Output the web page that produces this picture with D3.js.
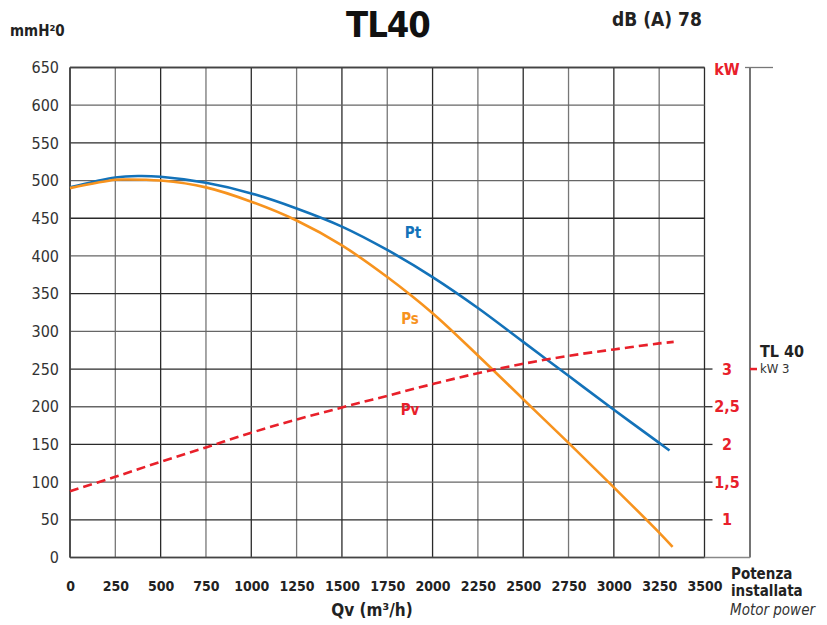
<!DOCTYPE html>
<html><head><meta charset="utf-8">
<script src="https://cdn.jsdelivr.net/npm/d3@7"></script>
<style>
body{margin:0;background:#fff;}
svg{display:block;}
text{font-family:"DejaVu Sans Condensed","Liberation Sans Narrow",sans-serif;}
</style></head>
<body><svg id="c" width="827" height="625"></svg>
<script>
// ---- data ----
const xTicks = [0,250,500,750,1000,1250,1500,1750,2000,2250,2500,2750,3000,3250,3500];
const yTicks = [0,50,100,150,200,250,300,350,400,450,500,550,600,650];
const kwTicks = [1,1.5,2,2.5,3];
const kwLabels = ["1","1,5","2","2,5","3"];
// Pt total pressure (mmH2O)
const ptQ = [0,250,375,500,750,1000,1250,1500,1750,2000,2250,2500,2750,3000,3250,3307];
const ptV = [491,504,506,505,497,483,463,439,408,372,331,286,241,196,152,142];
// Ps static pressure (mmH2O)
const psQ = [0,250,300,500,750,1000,1250,1500,1750,2000,2250,2500,2750,3000,3250,3324];
const psV = [490,501,501.5,500,491,472,447,414,372,324,268,210,152,93,33,14];
// Pv absorbed power (kW)
const pvQ = [0,250,500,750,1000,1250,1500,1750,2000,2250,2500,2750,3000,3250,3330];
const pvV = [1.38,1.57,1.77,1.96,2.155,2.33,2.49,2.645,2.8,2.945,3.07,3.175,3.26,3.34,3.36];
const installedKW = 3;

const svg = d3.select("#c");
const x = d3.scaleLinear().domain([0,3500]).range([70,704.5]);
const y = d3.scaleLinear().domain([0,650]).range([557.5,67.5]);
const yk = d3.scaleLinear().domain([0.5,7]).range([557.5,67.5]);
const gridCol = "#2a2a2a";

// gridlines
const g = svg.append("g");
g.selectAll(".vg").data(xTicks).join("line")
  .attr("x1",d=>x(d)).attr("x2",d=>x(d)).attr("y1",y(650)).attr("y2",y(0))
  .attr("stroke",(d,i)=>i%2?"#777":gridCol).attr("stroke-width",1.3);
g.selectAll(".hg").data(yTicks).join("line")
  .attr("x1",x(0)).attr("x2",x(3500)).attr("y1",d=>y(d)).attr("y2",d=>y(d))
  .attr("stroke",(d,i)=>i%2?gridCol:"#666").attr("stroke-width",1.3);
// kW tick extensions
g.selectAll(".kt").data(kwTicks).join("line")
  .attr("x1",x(3500)).attr("x2",x(3500)+8).attr("y1",d=>yk(d)).attr("y2",d=>yk(d))
  .attr("stroke",gridCol).attr("stroke-width",1.3);
// motor power axis
g.append("line").attr("x1",750).attr("x2",750).attr("y1",y(650)).attr("y2",y(0))
  .attr("stroke",gridCol).attr("stroke-width",1.3);
g.append("line").attr("x1",x(3500)).attr("x2",750).attr("y1",y(0)).attr("y2",y(0))
  .attr("stroke","#888").attr("stroke-width",1.3);
g.append("line").attr("x1",745).attr("x2",773).attr("y1",y(650)).attr("y2",y(650))
  .attr("stroke","#777").attr("stroke-width",1.3);
g.append("line").attr("x1",x(0)).attr("x2",x(3500)).attr("y1",y(650)).attr("y2",y(650))
  .attr("stroke","#444").attr("stroke-width",1.6);
g.append("line").attr("x1",x(0)).attr("x2",x(3500)).attr("y1",y(0)).attr("y2",y(0))
  .attr("stroke","#444").attr("stroke-width",1.6);
g.append("line").attr("x1",x(0)).attr("x2",x(0)).attr("y1",y(650)).attr("y2",y(0))
  .attr("stroke","#444").attr("stroke-width",1.6);

// axes labels via d3 axes
const ya = svg.append("g").attr("transform","translate(59,0)")
  .call(d3.axisLeft(y).tickValues(yTicks).tickSize(0).tickPadding(0));
ya.select(".domain").remove();
ya.selectAll("text").attr("font-size",16).attr("fill","#333")
  .style("font-family",'"DejaVu Sans Condensed","Liberation Sans Narrow",sans-serif');

const xa = svg.append("g").attr("transform","translate(0,581)")
  .call(d3.axisBottom(x).tickValues(xTicks).tickFormat(d3.format("d")).tickSize(0).tickPadding(0));
xa.select(".domain").remove();
xa.selectAll("text").attr("font-size",14).attr("font-weight","bold").attr("fill","#222")
  .style("font-family",'"DejaVu Sans Condensed","Liberation Sans Narrow",sans-serif');

const ka = svg.append("g").attr("transform","translate(727,0)")
  .call(d3.axisRight(yk).tickValues(kwTicks).tickFormat((d,i)=>kwLabels[i]).tickSize(0).tickPadding(0));
ka.select(".domain").remove();
ka.selectAll("text").attr("font-size",16).attr("font-weight","bold").attr("fill","#e8202a")
  .attr("text-anchor","middle")
  .style("font-family",'"DejaVu Sans Condensed","Liberation Sans Narrow",sans-serif');

// curves
const line = d3.line().curve(d3.curveCatmullRom.alpha(0.5));
svg.append("path").attr("d", line(ptQ.map((q,i)=>[x(q),y(ptV[i])])))
  .attr("fill","none").attr("stroke","#1372b9").attr("stroke-width",2.6);
svg.append("path").attr("d", line(psQ.map((q,i)=>[x(q),y(psV[i])])))
  .attr("fill","none").attr("stroke","#f7931e").attr("stroke-width",2.6);
svg.append("path").attr("d", line(pvQ.map((q,i)=>[x(q),yk(pvV[i])])))
  .attr("fill","none").attr("stroke","#e8202a").attr("stroke-width",2.6)
  .attr("stroke-dasharray","9,5");

// curve labels
svg.append("text").attr("x",413).attr("y",238).attr("text-anchor","middle").attr("font-size",15)
  .attr("font-weight","bold").attr("fill","#1372b9").text("Pt");
svg.append("text").attr("x",410).attr("y",324).attr("text-anchor","middle").attr("font-size",15)
  .attr("font-weight","bold").attr("fill","#f7931e").text("Ps");
svg.append("text").attr("x",410).attr("y",415).attr("text-anchor","middle").attr("font-size",15)
  .attr("font-weight","bold").attr("fill","#e8202a").text("Pv");

// titles
svg.append("text").attr("x",388).attr("y",37).attr("text-anchor","middle").attr("font-size",36)
  .attr("font-weight","900").attr("fill","#111").style("font-family",'"DejaVu Sans Condensed","DejaVu Sans",sans-serif')
  .attr("letter-spacing","-1").text("TL40");
svg.append("text").attr("x",657).attr("y",26).attr("text-anchor","middle").attr("font-size",19)
  .attr("font-weight","bold").attr("fill","#222").style("font-family",'"DejaVu Sans Condensed",sans-serif')
  .text("dB (A) 78");
svg.append("text").attr("x",10).attr("y",36).attr("font-size",15).attr("font-weight","bold").attr("fill","#222")
  .text("mmH²0");
svg.append("text").attr("x",727).attr("y",75).attr("text-anchor","middle").attr("font-size",16)
  .attr("font-weight","bold").attr("fill","#e8202a").text("kW");
svg.append("text").attr("x",372).attr("y",616).attr("text-anchor","middle").attr("font-size",17)
  .attr("font-weight","bold").attr("fill","#222").text("Qv (m³/h)");
svg.append("text").attr("x",731).attr("y",579).attr("font-size",15).attr("font-weight","bold").attr("fill","#222").text("Potenza");
svg.append("text").attr("x",731).attr("y",596).attr("font-size",15).attr("font-weight","bold").attr("fill","#222").text("installata");
svg.append("text").attr("x",730).attr("y",615).attr("font-size",15).attr("font-style","italic").attr("fill","#333").text("Motor power");

// installed power marker
svg.append("line").attr("x1",750).attr("x2",757).attr("y1",yk(installedKW)).attr("y2",yk(installedKW))
  .attr("stroke","#e8202a").attr("stroke-width",2.5);
svg.append("text").attr("x",760).attr("y",357).attr("font-size",16).attr("font-weight","bold").attr("fill","#222")
  .text("TL 40");
svg.append("text").attr("x",760).attr("y",373).attr("font-size",13).attr("fill","#333").text("kW " + installedKW);
</script></body></html>
